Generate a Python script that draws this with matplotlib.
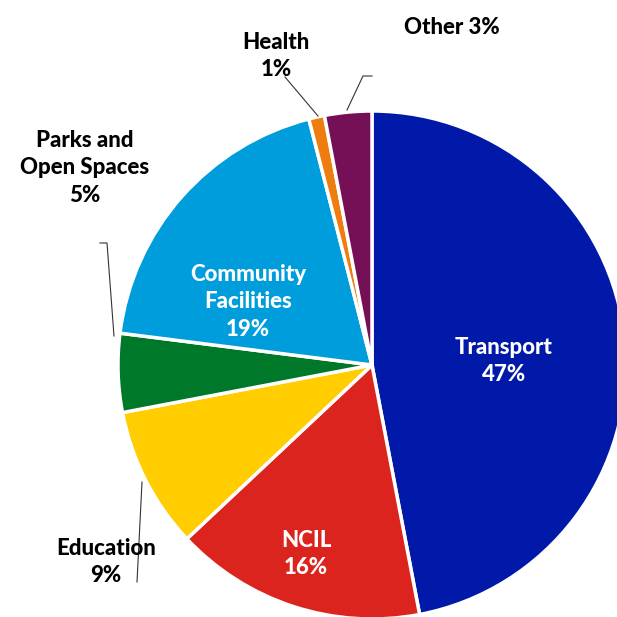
import matplotlib
matplotlib.use('Agg')
import matplotlib.pyplot as plt

labels = ['Transport', 'NCIL', 'Education', 'Parks and\nOpen Spaces', 'Community\nFacilities', 'Health', 'Other']
shares = [47, 16, 9, 5, 19, 1, 3]
colors = ['#0019A8', '#DC241F', '#FFCD00', '#00782A', '#009DDC', '#EE7C0E', '#751056']

W = 617
plt.rcParams['font.family'] = ['Lato', 'DejaVu Sans']

fig = plt.figure(figsize=(W / 100, W / 100), dpi=100)
ax = fig.add_axes([0, 0, 1, 1])

def py(y):
    # pixel row -> data y
    return W - y

cx, cy, r = 372, py(365), 254
ax.pie(shares, colors=colors, startangle=90, counterclock=False,
       center=(cx, cy), radius=r, frame=True,
       wedgeprops=dict(edgecolor='white', linewidth=2.5))
ax.set_xlim(0, W)
ax.set_ylim(0, W)
ax.set_aspect('equal')
ax.axis('off')

fs = 16
inside = dict(color='white', fontsize=fs, fontweight='black', ha='center', va='center', linespacing=1.4)
outside = dict(color='black', fontsize=fs, fontweight='black', ha='center', va='center', linespacing=1.4)

ax.text(504, py(361), f'{labels[0]}\n{shares[0]}%', **inside)
ax.text(306, py(554), f'{labels[1]}\n{shares[1]}%', **inside)
ax.text(248, py(302), f'{labels[4]}\n{shares[4]}%', **inside)

ax.text(106, py(562), f'{labels[2]}\n{shares[2]}%', **outside)
ax.text(85, py(168), f'{labels[3]}\n{shares[3]}%', **outside)
ax.text(276, py(56), f'{labels[5]}\n{shares[5]}%', **outside)
ax.text(452, py(28), f'{labels[6]} {shares[6]}%', **outside)

lk = dict(color='#333333', linewidth=0.8)
ax.plot([142, 137], [py(482), py(582)], **lk)
ax.plot([100, 107, 114], [py(243), py(243), py(336)], **lk)
ax.plot([285, 318], [py(77), py(116)], **lk)
ax.plot([372, 363, 347], [py(76), py(76), py(110)], **lk)

fig.savefig('out.png', dpi=100)
